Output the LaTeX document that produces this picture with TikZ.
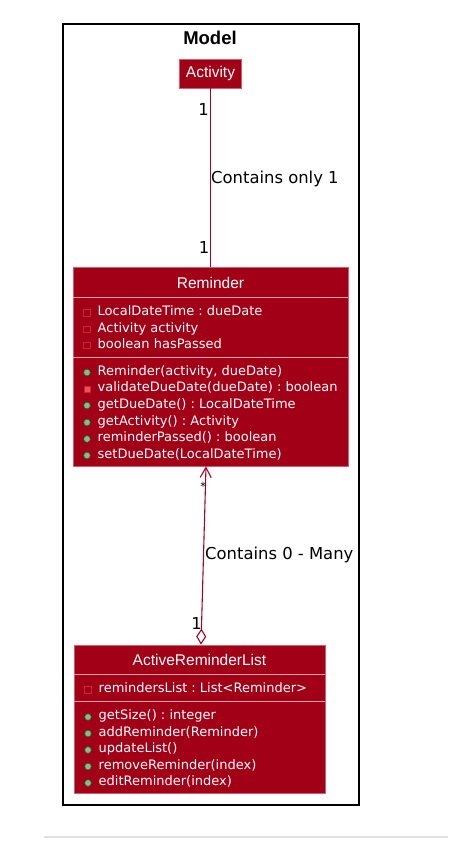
\documentclass[tikz,border=0pt]{standalone}
\usepackage{fontspec}
\setmainfont{DejaVu Sans}
\newfontfamily\clsfont{Liberation Sans}
\usetikzlibrary{arrows.meta}
\definecolor{clsbg}{RGB}{161,0,22}
\definecolor{clsborder}{RGB}{205,95,110}
\definecolor{sepc}{RGB}{232,160,170}
\definecolor{clsline}{RGB}{168,0,40}
\definecolor{pubfill}{RGB}{132,190,132}
\definecolor{pubdraw}{RGB}{3,128,72}
\definecolor{privfill}{RGB}{242,77,92}
\definecolor{privdraw}{RGB}{200,41,48}
\definecolor{graybar}{RGB}{225,225,225}
\frenchspacing
\begin{document}
\begin{tikzpicture}[x=1pt,y=-1pt,
  classbox/.style={draw=clsborder, line width=0.8pt, fill=clsbg, inner sep=0pt},
  clsname/.style={text=white, font=\clsfont\fontsize{15.5}{18}\selectfont, inner sep=0pt},
  member/.style={text=white, font=\fontsize{13}{16}\selectfont\frenchspacing, anchor=mid west, inner sep=0pt, yshift=-2pt},
  lbl/.style={font=\fontsize{16.4}{19}\selectfont\frenchspacing, inner sep=0pt},
  pubicon/.style={circle, fill=pubfill, draw=pubdraw, line width=0.5pt, minimum size=6.5pt, inner sep=0pt, yshift=-2pt},
  privmicon/.style={rectangle, fill=privfill, draw=privdraw, line width=0.5pt, minimum size=6.5pt, inner sep=0pt, yshift=-2pt},
  privaicon/.style={rectangle, draw=privdraw, line width=0.8pt, minimum size=6.5pt, inner sep=0pt, yshift=-2pt},
  sepline/.style={draw=sepc, line width=0.8pt},
  assoc/.style={draw=clsline, line width=1.1pt}]
\useasboundingbox (0,0) rectangle (448,843);

% package frame
\draw[line width=1.8pt] (63,24) rectangle (359,805);
\node[font=\clsfont\bfseries\fontsize{18.5}{20}\selectfont, inner sep=0pt] (title) at (210,38) {Model};

% Activity
\node[classbox, clsname, draw=clsborder, fill=clsbg, minimum width=62pt, minimum height=29pt] (act) at (210.5,73.5) {Activity};

% Reminder
\node[classbox, minimum width=275pt, minimum height=199pt] (rem) at (210.5,366.5) {};
\node[clsname] (remn) at (210.5,282.5) {Reminder};
\draw[sepline] (73.4,297) -- (347.6,297);
\draw[sepline] (73.4,357) -- (347.6,357);
\node[privaicon] (ra1i) at (87,311) {};
\node[member] (ra1) at (97.5,311) {LocalDateTime : dueDate};
\node[privaicon] (ra2i) at (87,327.5) {};
\node[member] (ra2) at (97.5,327.5) {Activity activity};
\node[privaicon] (ra3i) at (87,343.5) {};
\node[member] (ra3) at (97.5,343.5) {boolean hasPassed};
\node[pubicon] (rm1i) at (87,370.5) {};
\node[member] (rm1) at (97.5,370.5) {Reminder(activity, dueDate)};
\node[privmicon] (rm2i) at (87,387) {};
\node[member] (rm2) at (97.5,387) {validateDueDate(dueDate) : boolean};
\node[pubicon] (rm3i) at (87,403.5) {};
\node[member] (rm3) at (97.5,403.5) {getDueDate() : LocalDateTime};
\node[pubicon] (rm4i) at (87,420.5) {};
\node[member] (rm4) at (97.5,420.5) {getActivity() : Activity};
\node[pubicon] (rm5i) at (87,437) {};
\node[member] (rm5) at (97.5,437) {reminderPassed() : boolean};
\node[pubicon] (rm6i) at (87,453.5) {};
\node[member] (rm6) at (97.5,453.5) {setDueDate(LocalDateTime)};

% ActiveReminderList
\node[classbox, minimum width=251pt, minimum height=148pt] (arl) at (199.5,719) {};
\node[clsname] (arln) at (199.5,659.5) {ActiveReminderList};
\draw[sepline] (74.4,674) -- (324.6,674);
\draw[sepline] (74.4,701) -- (324.6,701);
\node[privaicon] (aa1i) at (88,688) {};
\node[member] (aa1) at (98.5,688) {remindersList : List<Reminder>};
\node[pubicon] (am1i) at (88,715) {};
\node[member] (am1) at (98.5,715) {getSize() : integer};
\node[pubicon] (am2i) at (88,731.5) {};
\node[member] (am2) at (98.5,731.5) {addReminder(Reminder)};
\node[pubicon] (am3i) at (88,748) {};
\node[member] (am3) at (98.5,748) {updateList()};
\node[pubicon] (am4i) at (88,764.5) {};
\node[member] (am4) at (98.5,764.5) {removeReminder(index)};
\node[pubicon] (am5i) at (88,781) {};
\node[member] (am5) at (98.5,781) {editReminder(index)};

% connectors
\draw[assoc] (act.south) -- (rem.north);
\draw[assoc, {Diamond[open, fill=white, length=16pt, width=10pt]}-{Straight Barb[length=10pt, width=11pt]}]
  ([xshift=1.5pt]arl.north) -- ([xshift=-4.5pt]rem.south);

% labels
\node[lbl] (m1) at (203.5,110) {1};
\node[lbl] (m2) at (204,248) {1};
\node[lbl, anchor=mid west] (l1) at (211,181) {Contains only 1};
\node[font=\fontsize{11}{12}\selectfont, inner sep=0pt] (m3) at (203,486) {*};
\node[lbl, anchor=mid west] (l2) at (205,557) {Contains 0 - Many};
\node[lbl] (m4) at (196.5,624) {1};

% bottom rule of the page
\draw[draw=graybar, line width=1.2pt] (44,837) -- (448,837);
\end{tikzpicture}
\end{document}
